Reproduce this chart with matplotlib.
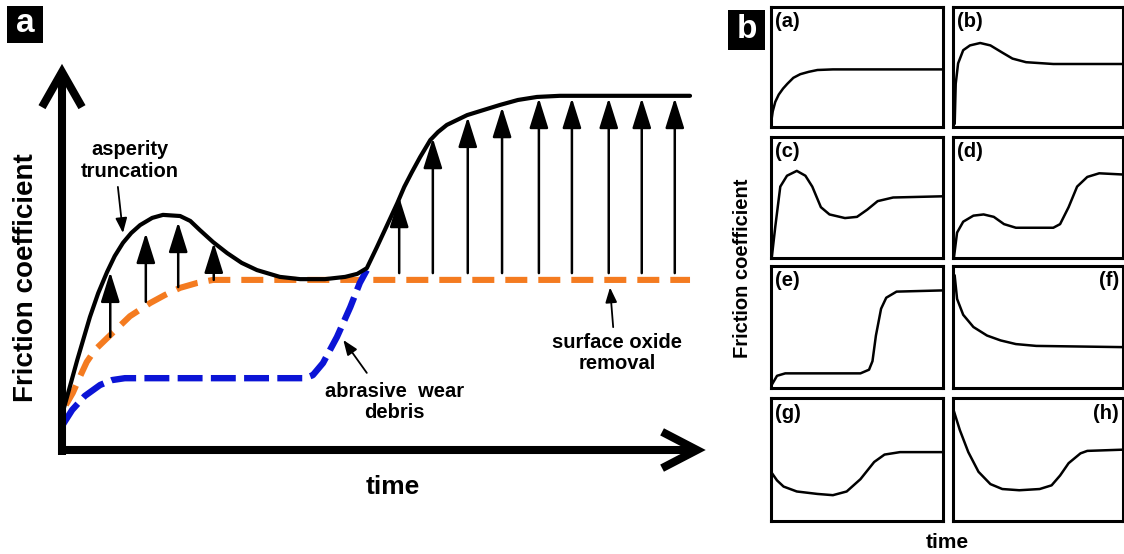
import matplotlib
matplotlib.use("Agg")
import matplotlib.pyplot as plt
from matplotlib.patches import Rectangle

plt.rcParams['font.family'] = ['Liberation Sans', 'DejaVu Sans']
plt.rcParams['font.weight'] = 'bold'

# ---------------- Panel a data (time 0..100, friction 0..100) ----------------
black_t = [0, 1.1, 2.4, 4.4, 5.7, 7.1, 8.3, 9.6, 10.9, 12.3, 14.2, 15.9, 18.6, 20.2, 21.7,
           23.8, 26.0, 28.3, 30.7, 34.3, 37.5, 41.4, 44.6, 46.5, 48.0, 49.6, 51.2,
           52.8, 53.9, 55.1, 56.4, 58.0, 59.2, 60.6, 63.8, 66.3, 69.0, 71.8, 74.8, 78.4, 98.9]
black_f = [9.3, 15.9, 23.8, 35.2, 41.5, 47.1, 51.3, 54.8, 57.4, 59.5, 61.4, 62.2, 61.9, 60.6, 58.2,
           55.0, 52.1, 49.5, 47.6, 45.8, 45.2, 45.2, 45.8, 46.6, 48.1, 53.7, 59.5,
           65.3, 69.6, 73.5, 77.5, 82.0, 84.1, 86.0, 88.6, 89.9, 91.3, 92.6, 93.4, 93.7, 93.7]

oxide_t = [0.6, 1.7, 2.8, 3.9, 5.2, 7.6, 10.7, 13.9, 16.2, 18.6, 21.3, 23.8, 98.9]
oxide_f = [11.9, 15.1, 19.3, 23.3, 26.5, 30.4, 35.4, 38.9, 41.0, 42.9, 44.2, 45.0, 45.0]

debris_t = [0.2, 1.6, 3.6, 6.0, 7.9, 9.9, 38.3, 39.5, 41.1, 43.3, 45.4, 46.9, 48.0]
debris_f = [6.9, 10.6, 14.3, 17.2, 18.5, 19.0, 19.0, 19.8, 23.0, 29.9, 37.8, 44.2, 47.6]

arrow_t = [7.6, 13.2, 18.3, 23.9, 53.1, 58.4, 63.9, 69.3, 75.1, 80.3, 86.1, 91.3, 96.5]
arrow_base = [29.9, 39.2, 43.1, 45.0, 46.8, 46.8, 46.8, 46.8, 46.8, 46.8, 46.8, 46.8, 46.8]
arrow_tip = [47.1, 57.4, 60.3, 54.8, 66.9, 82.5, 88.1, 90.7, 93.1, 93.1, 93.1, 93.1, 93.1]

# ---------------- Panel b data (normalised time / friction) ----------------
small_labels = ['(a)', '(b)', '(c)', '(d)', '(e)', '(f)', '(g)', '(h)']
sa_x = [0, 0.01, 0.025, 0.045, 0.07, 0.095, 0.13, 0.17, 0.22, 0.27, 0.36, 1.0]
sa_y = [0.03, 0.13, 0.21, 0.27, 0.32, 0.36, 0.41, 0.44, 0.46, 0.475, 0.48, 0.48]
sb_x = [0.01, 0.016, 0.03, 0.06, 0.10, 0.16, 0.22, 0.29, 0.35, 0.43, 0.59, 1.0]
sb_y = [0.03, 0.36, 0.53, 0.64, 0.68, 0.70, 0.68, 0.62, 0.57, 0.54, 0.525, 0.525]
sc_x = [0.005, 0.025, 0.054, 0.093, 0.15, 0.20, 0.24, 0.29, 0.34, 0.43, 0.50, 0.56, 0.62, 0.71, 1.0]
sc_y = [0.01, 0.26, 0.59, 0.68, 0.72, 0.68, 0.59, 0.42, 0.36, 0.33, 0.34, 0.40, 0.47, 0.50, 0.51]
sd_x = [0.006, 0.024, 0.06, 0.12, 0.18, 0.24, 0.30, 0.37, 0.49, 0.59, 0.63, 0.68, 0.73, 0.79, 0.86, 1.0]
sd_y = [0.01, 0.21, 0.30, 0.35, 0.36, 0.34, 0.28, 0.25, 0.25, 0.25, 0.28, 0.42, 0.59, 0.67, 0.70, 0.69]
se_x = [0.006, 0.035, 0.083, 0.52, 0.57, 0.59, 0.61, 0.64, 0.67, 0.73, 1.0]
se_y = [0.03, 0.10, 0.12, 0.12, 0.15, 0.22, 0.43, 0.65, 0.74, 0.79, 0.80]
sf_x = [0.01, 0.024, 0.06, 0.12, 0.20, 0.28, 0.37, 0.49, 1.0]
sf_y = [0.92, 0.73, 0.60, 0.50, 0.43, 0.39, 0.36, 0.345, 0.335]
sg_x = [0.0, 0.035, 0.073, 0.15, 0.27, 0.36, 0.44, 0.52, 0.60, 0.66, 0.75, 1.0]
sg_y = [0.40, 0.33, 0.28, 0.24, 0.22, 0.21, 0.24, 0.34, 0.48, 0.54, 0.56, 0.56]
sh_x = [0.006, 0.04, 0.09, 0.15, 0.22, 0.29, 0.39, 0.51, 0.58, 0.63, 0.68, 0.75, 0.79, 1.0]
sh_y = [0.89, 0.74, 0.56, 0.40, 0.30, 0.26, 0.25, 0.26, 0.29, 0.37, 0.47, 0.55, 0.57, 0.58]

W, H = 1124, 554
fig = plt.figure(figsize=(W / 100, H / 100), dpi=100)


def fx(px):
    return px / W


def fy(py):
    return 1 - py / H


# ---------------- Panel a ----------------
ax = fig.add_axes([fx(62), fy(450), 635 / W, 378 / H])
ax.set_xlim(0, 100)
ax.set_ylim(0, 100)
ax.axis('off')

orange = '#F47B20'
blue = '#0B14D6'

ax.plot(oxide_t, oxide_f, color=orange, lw=4.4, dashes=(3.6, 1.8), zorder=2,
        solid_joinstyle='round', dash_capstyle='butt', clip_on=False)
ax.plot(debris_t, debris_f, color=blue, lw=4.6, dashes=(3.9, 1.3), zorder=3,
        dash_capstyle='butt', clip_on=False)
for t, b, tp in zip(arrow_t, arrow_base, arrow_tip):
    ax.annotate('', xy=(t, tp), xytext=(t, b),
                arrowprops=dict(arrowstyle='-|>,head_length=1.85,head_width=0.58',
                                lw=1.8, color='black', shrinkA=0, shrinkB=0,
                                mutation_scale=10), zorder=3)
ax.plot(black_t, black_f, color='black', lw=3.0, zorder=4, solid_joinstyle='round',
        solid_capstyle='round', clip_on=False)

# axes with chevron heads
axis_kw = dict(color='black', lw=5.8, solid_capstyle='butt', solid_joinstyle='miter',
               clip_on=False, zorder=5)
ax.plot([0, 0], [-1.2, 99], **axis_kw)
ax.plot([-3.15, 0, 3.15], [90.7, 100, 90.7], **axis_kw)
ax.plot([-0.5, 99], [0, 0], **axis_kw)
ax.plot([94.5, 100, 94.5], [4.8, 0, -4.8], **axis_kw)

# annotations
small_arrow = dict(arrowstyle='-|>,head_length=0.9,head_width=0.35', lw=1.3,
                   color='black', shrinkA=0, shrinkB=0, mutation_scale=10)
ax.annotate('', xy=(9.6, 57.4), xytext=(8.8, 69.6), arrowprops=small_arrow, zorder=6)
ax.annotate('', xy=(44.3, 29.1), xytext=(48.0, 20.4), arrowprops=small_arrow, zorder=6)
ax.annotate('', xy=(86.3, 43.0), xytext=(86.8, 32.5), arrowprops=small_arrow, zorder=6)

ann_fs = 14.5
ax.text(10.7, 76.7, 'asperity\ntruncation', ha='center', va='center', fontsize=ann_fs,
        fontweight='bold', linespacing=1.2)
ax.text(52.4, 12.7, 'abrasive  wear\ndebris', ha='center', va='center', fontsize=ann_fs,
        fontweight='bold', linespacing=1.15)
ax.text(87.4, 25.7, 'surface oxide\nremoval', ha='center', va='center', fontsize=ann_fs,
        fontweight='bold', linespacing=1.15)

fig.text(fx(26), fy(278), 'Friction coefficient', rotation=90, ha='center', va='center',
         fontsize=20, fontweight='bold')
fig.text(fx(393), fy(487), 'time', ha='center', va='center', fontsize=19, fontweight='bold')

# panel letter boxes
fig.patches.append(Rectangle((fx(7), fy(43)), 36 / W, 37 / H, transform=fig.transFigure,
                             facecolor='black', edgecolor='none', zorder=0))
fig.text(fx(25), fy(23), 'a', ha='center', va='center', color='white', fontsize=24,
         fontweight='bold')
fig.patches.append(Rectangle((fx(728), fy(50)), 37 / W, 40 / H, transform=fig.transFigure,
                             facecolor='black', edgecolor='none', zorder=0))
fig.text(fx(746.5), fy(29), 'b', ha='center', va='center', color='white', fontsize=24,
         fontweight='bold')

# ---------------- Panel b ----------------
cols = [(771, 943), (953, 1123)]
rows = [(7, 127), (137, 258), (266, 388), (398, 521)]
curves = [(sa_x, sa_y), (sb_x, sb_y), (sc_x, sc_y), (sd_x, sd_y),
          (se_x, se_y), (sf_x, sf_y), (sg_x, sg_y), (sh_x, sh_y)]
for i, (lab, (cx, cy)) in enumerate(zip(small_labels, curves)):
    r, c = divmod(i, 2)
    x0, x1 = cols[c]
    y0, y1 = rows[r]
    sax = fig.add_axes([fx(x0), fy(y1), (x1 - x0) / W, (y1 - y0) / H])
    sax.set_xlim(0, 1)
    sax.set_ylim(0, 1)
    sax.set_xticks([])
    sax.set_yticks([])
    for s in sax.spines.values():
        s.set_linewidth(2.2)
    sax.plot(cx, cy, color='black', lw=1.8, solid_joinstyle='round')
    if lab in ('(f)', '(h)'):
        sax.text(0.975, 0.955, lab, transform=sax.transAxes, ha='right', va='top',
                 fontsize=14.5, fontweight='bold')
    else:
        sax.text(0.025, 0.955, lab, transform=sax.transAxes, ha='left', va='top',
                 fontsize=14.5, fontweight='bold')

fig.text(fx(742), fy(268), 'Friction coefficient', rotation=90, ha='center', va='center',
         fontsize=14.5, fontweight='bold')
fig.text(fx(947), fy(543), 'time', ha='center', va='center', fontsize=15, fontweight='bold')

fig.savefig('out.png', dpi=100, facecolor='white')
